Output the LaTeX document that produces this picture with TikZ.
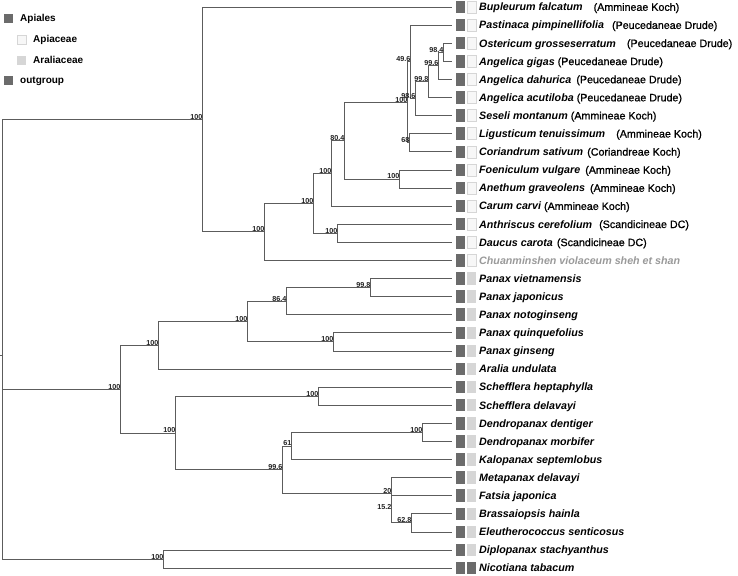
\documentclass[tikz,border=0pt]{standalone}
\usepackage{fontspec}
\setmainfont{Liberation Sans}
\newfontfamily\authfont[FakeBold=0.9]{Liberation Sans}
\definecolor{treeline}{HTML}{5C5C5C}
\definecolor{boxdark}{HTML}{6B6B6B}
\definecolor{apifill}{HTML}{F7F7F7}
\definecolor{apidraw}{HTML}{D6D6D6}
\definecolor{aralfill}{HTML}{D6D6D6}
\definecolor{chgray}{HTML}{9A9A9A}
\definecolor{bstext}{HTML}{222222}
\tikzset{
  edge/.style={draw=treeline, line width=0.8pt},
  dbox/.style={fill=boxdark, draw=none, inner sep=0pt, minimum width=9.3pt, minimum height=12.5pt},
  abox/.style={fill=apifill, draw=apidraw, line width=0.5pt, inner sep=0pt, minimum width=8.3pt, minimum height=12pt},
  rbox/.style={fill=aralfill, draw=none, inner sep=0pt, minimum width=8.7pt, minimum height=12.5pt},
  leaftext/.style={anchor=base west, inner sep=0pt, text=black, font=\fontsize{10.7}{12}\selectfont},
  bs/.style={anchor=base east, inner sep=0pt, xshift=0.5pt, text=bstext, font=\fontsize{7.2}{8}\selectfont\bfseries},
  legtext/.style={anchor=base west, inner sep=0pt, text=black, font=\fontsize{10}{12}\selectfont\bfseries},
  legbox/.style={inner sep=0pt, minimum width=9pt, minimum height=9.5pt, anchor=north west}
}
\newcommand\leafrow[6]{%
  \coordinate (#1) at (452,#2);
  \node[dbox] (#1d) at (460.6,#2) {};
  \node[#3] (#1b) at (471.6,#2) {};
  \node[leaftext] (#1t) at (479,#2+3.83) {{\bfseries\itshape #4}\hspace{#5pt}{\authfont #6}};
}
\begin{document}
\begin{tikzpicture}[x=1pt,y=-1pt]
\fill[white] (0,0) rectangle (738,575);
\useasboundingbox (0,0) rectangle (738,575);

% legend
\node[legbox, fill=boxdark] (lg1) at (4,13.5) {};
\node[legtext] (lg1t) at (20,21.7) {Apiales};
\node[legbox, fill=apifill, draw=apidraw, line width=0.5pt, minimum width=8.5pt, minimum height=9pt] (lg2) at (17.2,35) {};
\node[legtext] (lg2t) at (33,43) {Apiaceae};
\node[legbox, fill=aralfill] (lg3) at (17,55.5) {};
\node[legtext] (lg3t) at (33,63.8) {Araliaceae};
\node[legbox, fill=boxdark] (lg4) at (4,75.8) {};
\node[legtext] (lg4t) at (20,84) {outgroup};

% leaves
\leafrow{Bup}{7}{abox}{Bupleurum falcatum}{11}{(Ammineae Koch)}
\leafrow{Pas}{25.1}{abox}{Pastinaca pimpinellifolia}{8}{(Peucedaneae Drude)}
\leafrow{Ost}{43.2}{abox}{Ostericum grosseserratum}{11}{(Peucedaneae Drude)}
\leafrow{Gig}{61.3}{abox}{Angelica gigas}{3}{(Peucedaneae Drude)}
\leafrow{Dah}{79.4}{abox}{Angelica dahurica}{5}{(Peucedaneae Drude)}
\leafrow{Acu}{97.5}{abox}{Angelica acutiloba}{3}{(Peucedaneae Drude)}
\leafrow{Ses}{115.6}{abox}{Seseli montanum}{3}{(Ammineae Koch)}
\leafrow{Lig}{133.7}{abox}{Ligusticum tenuissimum}{11}{(Ammineae Koch)}
\leafrow{Cor}{151.8}{abox}{Coriandrum sativum}{4}{(Coriandreae Koch)}
\leafrow{Foe}{169.9}{abox}{Foeniculum vulgare}{5}{(Ammineae Koch)}
\leafrow{Ane}{188}{abox}{Anethum graveolens}{5}{(Ammineae Koch)}
\leafrow{Car}{206.1}{abox}{Carum carvi}{3}{(Ammineae Koch)}
\leafrow{Ant}{224.2}{abox}{Anthriscus cerefolium}{7}{(Scandicineae DC)}
\leafrow{Dau}{242.3}{abox}{Daucus carota}{4}{(Scandicineae DC)}
\leafrow{Chu}{260.4}{abox}{\textcolor{chgray}{Chuanminshen violaceum sheh et shan}}{0}{}
\leafrow{Pvi}{278.5}{rbox}{Panax vietnamensis}{0}{}
\leafrow{Pja}{296.6}{rbox}{Panax japonicus}{0}{}
\leafrow{Pno}{314.7}{rbox}{Panax notoginseng}{0}{}
\leafrow{Pqu}{332.8}{rbox}{Panax quinquefolius}{0}{}
\leafrow{Pgi}{350.9}{rbox}{Panax ginseng}{0}{}
\leafrow{Ara}{369}{rbox}{Aralia undulata}{0}{}
\leafrow{Shp}{387.1}{rbox}{Schefflera heptaphylla}{0}{}
\leafrow{Sdl}{405.2}{rbox}{Schefflera delavayi}{0}{}
\leafrow{Dde}{423.3}{rbox}{Dendropanax dentiger}{0}{}
\leafrow{Dmo}{441.4}{rbox}{Dendropanax morbifer}{0}{}
\leafrow{Kal}{459.5}{rbox}{Kalopanax septemlobus}{0}{}
\leafrow{Met}{477.6}{rbox}{Metapanax delavayi}{0}{}
\leafrow{Fat}{495.7}{rbox}{Fatsia japonica}{0}{}
\leafrow{Bra}{513.8}{rbox}{Brassaiopsis hainla}{0}{}
\leafrow{Ele}{531.9}{rbox}{Eleutherococcus senticosus}{0}{}
\leafrow{Dip}{550}{rbox}{Diplopanax stachyanthus}{0}{}
\leafrow{Nic}{568.1}{dbox}{Nicotiana tabacum}{0}{}

% internal nodes
\coordinate (root) at (2,355.85);
\coordinate (stub) at (0,355.85);
\coordinate (A) at (202,119.4);
\coordinate (N1) at (264,231.85);
\coordinate (N2) at (313,203.3);
\coordinate (N3) at (331,173.35);
\coordinate (N4) at (337,233.25);
\coordinate (N5) at (344,140.6);
\coordinate (N6) at (399,178.95);
\coordinate (N7) at (407,102.3);
\coordinate (N8) at (410,61.85);
\coordinate (N9) at (415,98.6);
\coordinate (N10) at (428,81.65);
\coordinate (N11) at (438,65.8);
\coordinate (N12) at (443,52.25);
\coordinate (N68) at (409,142.75);
\coordinate (B) at (120,389.1);
\coordinate (C) at (158,345.25);
\coordinate (E) at (247,321.5);
\coordinate (F) at (286,301.1);
\coordinate (H) at (370,287.55);
\coordinate (G) at (333,341.85);
\coordinate (D) at (175,432.9);
\coordinate (I) at (318,396.15);
\coordinate (J) at (282,469.7);
\coordinate (K) at (291,445.9);
\coordinate (M) at (422,432.35);
\coordinate (L1) at (391,493.45);
\coordinate (L2) at (391,509.3);
\coordinate (NN) at (411,522.85);
\coordinate (O) at (163,559.05);

% edges
\draw[edge] (stub) -- (root);
\foreach \p/\c in {root/A, root/B, root/O,
  A/Bup, A/N1, N1/N2, N1/Chu, N2/N3, N2/N4, N3/N5, N3/Car, N5/N7, N5/N6,
  N7/N8, N7/N68, N8/Pas, N8/N9, N9/N10, N9/Ses, N10/N11, N10/Acu,
  N11/N12, N11/Dah, N12/Ost, N12/Gig, N68/Lig, N68/Cor, N6/Foe, N6/Ane,
  N4/Ant, N4/Dau,
  B/C, B/D, C/E, C/Ara, E/F, E/G, F/H, F/Pno, H/Pvi, H/Pja, G/Pqu, G/Pgi,
  D/I, D/J, I/Shp, I/Sdl, J/K, J/L1, K/M, K/Kal, M/Dde, M/Dmo,
  L1/Met, L1/L2, L2/Fat, L2/NN, NN/Bra, NN/Ele,
  O/Dip, O/Nic}
  \draw[edge] (\p) |- (\c);

% bootstrap labels
\node[bs] (bA) at (A) {100};
\node[bs] (bN1) at (N1) {100};
\node[bs] (bN2) at (N2) {100};
\node[bs] (bN3) at (N3) {100};
\node[bs] (bN4) at (N4) {100};
\node[bs] (bN5) at (N5) {80.4};
\node[bs] (bN6) at (N6) {100};
\node[bs] (bN7) at (N7) {100};
\node[bs] (bN8) at (N8) {49.6};
\node[bs] (bN9) at (N9) {98.6};
\node[bs] (bN10) at (N10) {99.8};
\node[bs] (bN11) at (N11) {99.6};
\node[bs] (bN12) at (N12) {98.4};
\node[bs] (bN68) at (N68) {68};
\node[bs] (bB) at (B) {100};
\node[bs] (bC) at (C) {100};
\node[bs] (bE) at (E) {100};
\node[bs] (bF) at (F) {86.4};
\node[bs] (bH) at (H) {99.8};
\node[bs] (bG) at (G) {100};
\node[bs] (bD) at (D) {100};
\node[bs] (bI) at (I) {100};
\node[bs] (bJ) at (J) {99.6};
\node[bs] (bK) at (K) {61};
\node[bs] (bM) at (M) {100};
\node[bs] (bL1) at (L1) {20};
\node[bs] (bL2) at (L2) {15.2};
\node[bs] (bNN) at (NN) {62.8};
\node[bs] (bO) at (O) {100};
\end{tikzpicture}
\end{document}
